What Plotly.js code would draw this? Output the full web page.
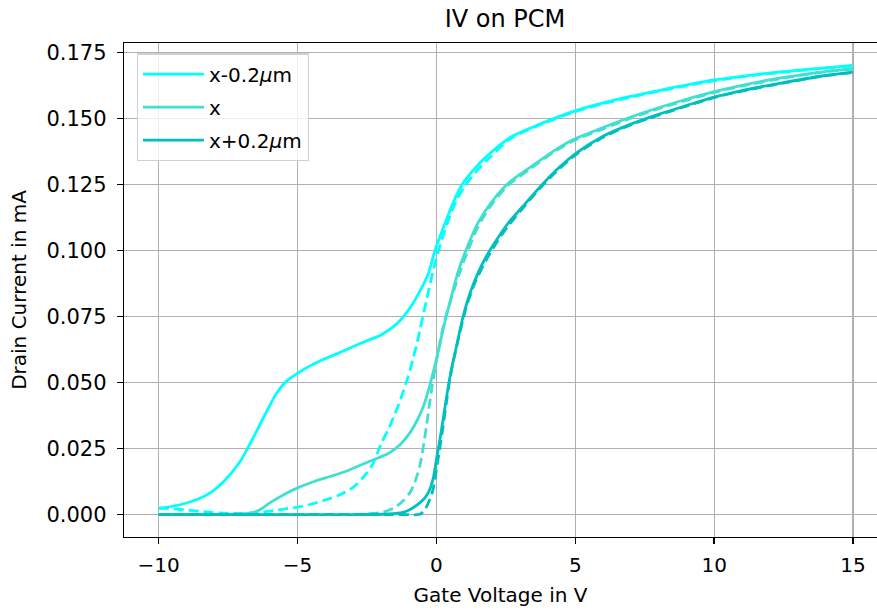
<!DOCTYPE html>
<html>
<head>
<meta charset="utf-8">
<script src="https://cdn.plot.ly/plotly-3.0.1.min.js"></script>
<style>
html, body { margin: 0; padding: 0; overflow: hidden; background: #fff; }
#chart { width: 877px; height: 612px; }
</style>
</head>
<body>
<div id="chart"></div>
<script>
// ---- Data ----
const seriesNames = ["x-0.2<i>μ</i>m", "x", "x+0.2<i>μ</i>m"];
const seriesColors = ["#00FFFF", "#40E0D0", "#00BFBF"];

// x-0.2um, solid sweep
const vA_solid = [-10, -9.2, -8.6, -8.1, -7.7, -7.1, -6.7, -6.2, -5.75, -5.4, -5.0, -4.6, -4.1, -3.5, -3.0, -2.5, -2.0, -1.5, -1.0, -0.6, -0.3, -0.05, 0.3, 0.6, 0.9, 1.3, 1.8, 2.7, 3.5, 4.2, 5.0, 6.0, 7.0, 8.0, 9.0, 10.0, 11.0, 12.5, 14.0, 15];
const iA_solid = [0.0023, 0.0038, 0.0058, 0.0085, 0.012, 0.0196, 0.027, 0.0372, 0.046, 0.0505, 0.0535, 0.056, 0.0586, 0.0612, 0.0636, 0.0658, 0.068, 0.0715, 0.0775, 0.0845, 0.091, 0.100, 0.110, 0.118, 0.1245, 0.130, 0.1355, 0.143, 0.1468, 0.1498, 0.1528, 0.1558, 0.1583, 0.1605, 0.1626, 0.1645, 0.1659, 0.1677, 0.1691, 0.170];
// x-0.2um, dashed sweep
const vA_dash = [-10, -9.3, -8.5, -7.8, -7.0, -6.4, -5.9, -5.4, -5.0, -4.55, -4.0, -3.5, -3.0, -2.6, -2.3, -2.0, -1.7, -1.4, -1.1, -0.85, -0.6, -0.35, -0.1, 0.15, 0.4, 0.7, 1.0, 1.4, 1.9, 2.7, 3.5, 4.2, 5.0, 6.0, 7.0, 8.0, 9.0, 10, 11, 12.5, 14, 15];
const iA_dash = [0.0024, 0.002, 0.0012, 0.0006, 0.0004, 0.0008, 0.0014, 0.0022, 0.0028, 0.0038, 0.0055, 0.0074, 0.0103, 0.0145, 0.019, 0.0265, 0.033, 0.0405, 0.0495, 0.0585, 0.0695, 0.0815, 0.093, 0.1025, 0.1105, 0.1185, 0.124, 0.1295, 0.135, 0.1425, 0.1465, 0.1495, 0.1525, 0.1555, 0.158, 0.1602, 0.1623, 0.1642, 0.1657, 0.1675, 0.169, 0.1698];

// x, solid sweep
const vB_solid = [-10, -8.5, -7.2, -6.6, -6.3, -6.0, -5.5, -5.0, -4.4, -3.8, -3.2, -2.4, -1.7, -1.3, -0.95, -0.7, -0.45, -0.25, -0.1, 0.05, 0.25, 0.5, 0.8, 1.1, 1.5, 2.0, 2.6, 3.4, 4.2, 4.9, 6.0, 7.0, 8.0, 9.0, 10, 11, 12.5, 14, 15];
const iB_solid = [0, 0, 0.0002, 0.0007, 0.0022, 0.0044, 0.0075, 0.0101, 0.0125, 0.0145, 0.0166, 0.0202, 0.0233, 0.0265, 0.031, 0.0355, 0.0415, 0.0485, 0.0545, 0.061, 0.0705, 0.081, 0.0925, 0.101, 0.1105, 0.1185, 0.1255, 0.1316, 0.1375, 0.1418, 0.1465, 0.1505, 0.154, 0.1572, 0.1601, 0.1625, 0.1655, 0.1677, 0.1688];
// x, dashed sweep
const vB_dash = [-10, -4.0, -2.6, -2.0, -1.7, -1.44, -1.2, -0.96, -0.78, -0.6, -0.48, -0.36, -0.18, 0.0, 0.15, 0.3, 0.5, 0.8, 1.1, 1.5, 2.0, 2.6, 3.4, 4.2, 4.9, 6.0, 7.0, 8.0, 9.0, 10, 11, 12.5, 14, 15];
const iB_dash = [0, 0, 0.0002, 0.0008, 0.0017, 0.0031, 0.0052, 0.0082, 0.0122, 0.0183, 0.0252, 0.0334, 0.047, 0.058, 0.0665, 0.0735, 0.0805, 0.0905, 0.099, 0.109, 0.1175, 0.1248, 0.131, 0.137, 0.1413, 0.146, 0.15, 0.1536, 0.1568, 0.1598, 0.1622, 0.1652, 0.1676, 0.1686];

// x+0.2um, solid sweep
const vC_solid = [-10, -3.0, -1.8, -1.2, -0.9, -0.6, -0.4, -0.24, -0.1, 0.0, 0.12, 0.24, 0.38, 0.54, 0.72, 0.95, 1.2, 1.5, 1.8, 2.2, 2.6, 3.1, 3.6, 4.3, 5.06, 6.0, 7.0, 8.0, 9.0, 10, 11, 12.5, 14, 15];
const iC_solid = [0, 0, 0.0002, 0.0008, 0.0022, 0.0044, 0.0065, 0.0095, 0.0145, 0.0208, 0.028, 0.036, 0.0455, 0.055, 0.0635, 0.0745, 0.0835, 0.0915, 0.0978, 0.1045, 0.1105, 0.1165, 0.1225, 0.1302, 0.137, 0.1432, 0.1478, 0.1515, 0.1548, 0.158, 0.1605, 0.1635, 0.1662, 0.1675];
// x+0.2um, dashed sweep
const vC_dash = [-10, -1.2, -0.6, -0.42, -0.24, -0.1, 0.0, 0.12, 0.24, 0.36, 0.48, 0.62, 0.8, 1.09, 1.4, 1.8, 2.2, 2.6, 3.1, 3.6, 4.3, 5.06, 6.0, 7.0, 8.0, 9.0, 10, 11, 12.5, 14, 15];
const iC_dash = [0, 0, 0.0001, 0.0018, 0.0057, 0.0105, 0.017, 0.025, 0.0334, 0.0425, 0.051, 0.0585, 0.067, 0.079, 0.088, 0.0965, 0.1035, 0.1095, 0.1158, 0.122, 0.1297, 0.1365, 0.1428, 0.1475, 0.1512, 0.1546, 0.1578, 0.1603, 0.1633, 0.1661, 0.1673];

const xTickVals = [-10, -5, 0, 5, 10, 15];
const yTickVals = [0, 0.025, 0.05, 0.075, 0.1, 0.125, 0.15, 0.175];

// ---- Traces ----
const sweeps = [
  [vA_solid, iA_solid, vA_dash, iA_dash],
  [vB_solid, iB_solid, vB_dash, iB_dash],
  [vC_solid, iC_solid, vC_dash, iC_dash]
];
const traces = [];
sweeps.forEach((s, k) => {
  traces.push({
    x: s[0], y: s[1], type: 'scatter', mode: 'lines',
    name: seriesNames[k], legendgroup: 'g' + k,
    line: { color: seriesColors[k], width: 2.8, shape: 'spline', smoothing: 0.8 }
  });
  traces.push({
    x: s[2], y: s[3], type: 'scatter', mode: 'lines',
    name: seriesNames[k] + ' (dashed)', showlegend: false, legendgroup: 'g' + k,
    line: { color: seriesColors[k], width: 2.8, dash: '10px,5px', shape: 'spline', smoothing: 0.8 }
  });
});

const font = "'DejaVu Sans', 'Liberation Sans', sans-serif";
const layout = {
  width: 877, height: 612,
  margin: { l: 124, r: 0, t: 43, b: 74.5, pad: 0 },
  paper_bgcolor: '#ffffff', plot_bgcolor: '#ffffff',
  font: { family: font, size: 19, color: '#000000' },
  title: { text: 'IV on PCM', font: { family: font, size: 24, color: '#000' },
           x: 0.506, xref: 'paper', xanchor: 'center', y: 0.969, yref: 'container', yanchor: 'middle' },
  showlegend: true,
  legend: {
    x: 0.017, y: 0.979, xanchor: 'left', yanchor: 'top',
    bgcolor: 'rgba(255,255,255,0.8)', bordercolor: '#d0d0d0', borderwidth: 1.2,
    tracegroupgap: 4, itemwidth: 61,
    font: { family: font, size: 20, color: '#000' }
  },
  xaxis: {
    range: [-11.25, 15.865], tickvals: xTickVals,
    showgrid: true, gridcolor: '#b0b0b0', gridwidth: 1.2, zeroline: false,
    showline: true, linecolor: '#000', linewidth: 1.3, mirror: true,
    ticks: 'outside', ticklen: 6, tickwidth: 1.3, tickcolor: '#000',
    ticklabelstandoff: 4,
    tickfont: { family: font, size: 20, color: '#000' },
    title: { text: 'Gate Voltage in V', font: { family: font, size: 20, color: '#000' }, standoff: 11 }
  },
  yaxis: {
    range: [-0.0085, 0.1785], tickvals: yTickVals, tickformat: '.3f',
    showgrid: true, gridcolor: '#b0b0b0', gridwidth: 1.2, zeroline: false,
    showline: true, linecolor: '#000', linewidth: 1.3, mirror: false,
    ticks: 'outside', ticklen: 6, tickwidth: 1.3, tickcolor: '#000',
    ticklabelstandoff: 6,
    tickfont: { family: font, size: 21, color: '#000' },
    title: { text: 'Drain Current in mA', font: { family: font, size: 20, color: '#000' }, standoff: 14 }
  }
};

Plotly.newPlot('chart', traces, layout, { displayModeBar: false, staticPlot: true });
</script>
</body>
</html>
